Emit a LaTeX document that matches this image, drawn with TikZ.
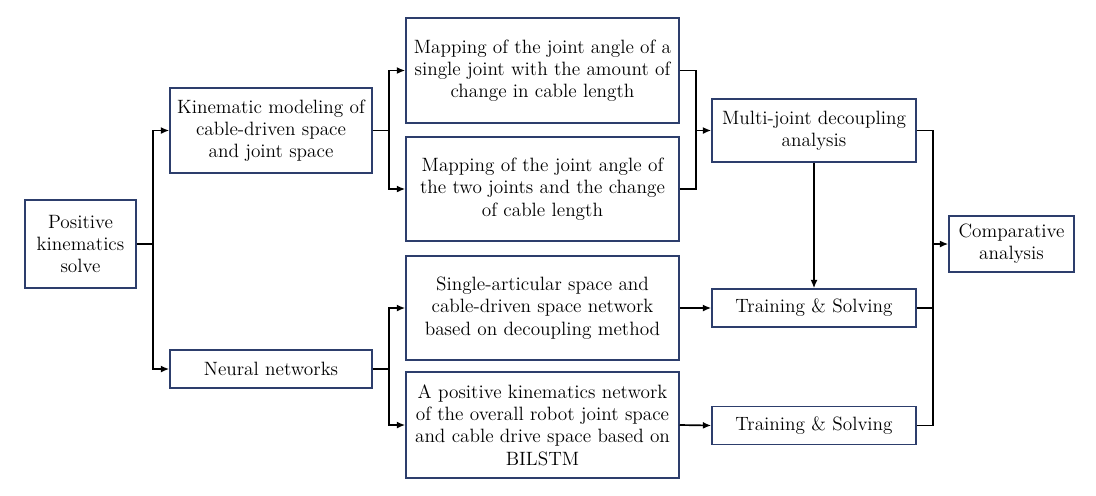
\documentclass[tikz,border=0pt]{standalone}
\usetikzlibrary{arrows.meta}
\definecolor{boxblue}{RGB}{45,62,108}
\tikzset{
  box/.style={draw=boxblue, line width=1pt, align=center, inner sep=2pt,
    font=\fontsize{13.7}{15.8}\selectfont},
  link/.style={line width=1.2pt},
  arr/.style={line width=1.2pt, -{Latex[length=6pt,width=5pt]}}
}
\begin{document}
\begin{tikzpicture}[x=0.025cm,y=-0.025cm]
\useasboundingbox (0,0) rectangle (1096,495);
\node[box, minimum width=2.775cm, minimum height=2.2cm] (pos) at (80.5,244)
  {Positive\\kinematics\\solve};
\node[box, minimum width=5.05cm, minimum height=2.125cm] (kin) at (271,130.5)
  {Kinematic modeling of\\cable-driven space\\and joint space};
\node[box, minimum width=5.05cm, minimum height=0.95cm] (nn) at (271,369)
  {Neural networks};
\node[box, minimum width=6.825cm, minimum height=2.625cm] (map1) at (542.5,70.5)
  {Mapping of the joint angle of a\\single joint with the amount of\\change in cable length};
\node[box, minimum width=6.825cm, minimum height=2.6cm] (map2) at (542.5,189)
  {Mapping of the joint angle of\\the two joints and the change\\of cable length};
\node[box, minimum width=6.825cm, minimum height=2.6cm] (single) at (542.5,308)
  {Single-articular space and\\cable-driven space network\\based on decoupling method};
\node[box, minimum width=6.825cm, minimum height=2.65cm] (bil) at (542.5,425)
  {A positive kinematics network\\of the overall robot joint space\\and cable drive space based on\\BILSTM};
\node[box, minimum width=5.1cm, minimum height=1.575cm] (multi) at (814,130.5)
  {Multi-joint decoupling\\analysis};
\node[box, minimum width=5.1cm, minimum height=0.95cm] (train1) at (814,308)
  {Training \& Solving};
\node[box, minimum width=5.1cm, minimum height=0.95cm] (train2) at (814,425.5)
  {Training \& Solving};
\node[box, minimum width=3.125cm, minimum height=1.4cm] (comp) at (1011.5,244)
  {Comparative\\analysis};
% junctions
\coordinate (j1) at (153,244);
\coordinate (j2) at (389,130.5);
\coordinate (j3) at (389,369);
\coordinate (j4) at (696,130.5);
\coordinate (j5) at (933,244);
\draw[link] (pos.east) -- (j1);
\draw[arr] (j1) |- (kin.west);
\draw[arr] (j1) |- (nn.west);
\draw[link] (kin.east) -- (j2);
\draw[arr] (j2) |- (map1.west);
\draw[arr] (j2) |- (map2.west);
\draw[link] (nn.east) -- (j3);
\draw[arr] (j3) |- (single.west);
\draw[arr] (j3) |- (bil.west);
\draw[link] (map1.east) -| (j4);
\draw[link] (map2.east) -| (j4);
\draw[arr] (j4) -- (multi.west);
\draw[arr] (multi.south) -- (train1.north);
\draw[arr] (single.east) -- (train1.west);
\draw[arr] (bil.east) -- (train2.west);
\foreach \n in {multi, train1, train2}
  \draw[link] (\n.east) -| (j5);
\draw[arr] (j5) -- (comp.west);
\end{tikzpicture}
\end{document}
